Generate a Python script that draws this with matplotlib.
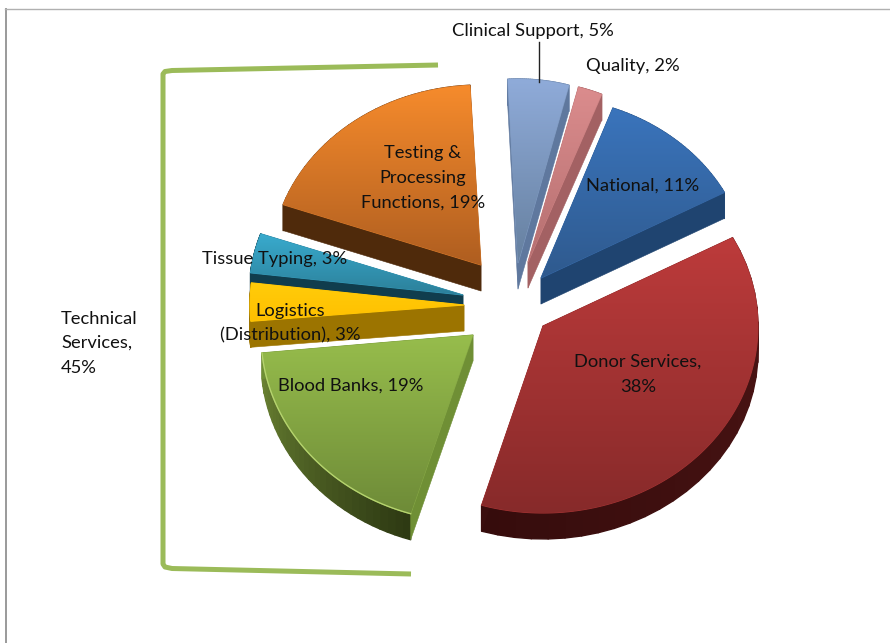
import numpy as np
import matplotlib
matplotlib.use("Agg")
import matplotlib.pyplot as plt
from matplotlib.collections import PolyCollection
from matplotlib.colors import to_rgb
from matplotlib.patches import Polygon

plt.rcParams["font.family"] = ["Lato", "DejaVu Sans"]

# Shares of the service, clockwise from the top of the pie
categories = ["Clinical Support", "Quality", "National", "Donor Services",
              "Blood Banks", "Logistics (Distribution)", "Tissue Typing",
              "Testing & Processing Functions"]
shares = [5, 2, 11, 38, 19, 3, 3, 19]
technical_share = 45

# Slice geometry in pixels: pulled-out apex relative to the pie centre, radii
CENTRE = (500, 300)
apex_dx = [18, 28, 41, 43, -27, -36, -37, -19]
apex_dy = [-37, -38, -22, 26, 35, 5, -5, -35]
radius_x = [197, 195, 208, 215, 212, 214, 214, 210]
radius_y = [184, 181, 181, 187, 187, 187, 187, 180]
# Small foreshortening corrections to each slice's first and last angle, degrees
start_nudge = [0, 0, 2, 0, 1.5, 2, 1, -1]
end_nudge = [0, 0, 0, 2, 2.5, 1, -0.5, 0]
DEPTH = 26
START_ANGLE = 93

top_light = ["#8FABD9", "#DB8C8D", "#3A74BC", "#BD3B3B", "#97BD4C", "#FFCC0A", "#39ABCE", "#F68B2C"]
top_dark = ["#66809F", "#B56F70", "#2F5A8E", "#872A2A", "#6E8B38", "#FFC000", "#2C809A", "#AF5E20"]
arc_wall_a = ["#6C86AE", "#A96567", "#264D7C", "#4E1515", "#2E3A13", "#9C7400", "#103D4D", "#4F2A0B"]
arc_wall_b = ["#6C86AE", "#A96567", "#264D7C", "#360C0C", "#6A8233", "#9C7400", "#103D4D", "#4F2A0B"]
cut_wall = ["#5F789E", "#A36163", "#1F4470", "#3A0E0E", "#6F8F35", "#9C7400", "#103D4D", "#4F2A0B"]

# Back slices are painted first so the nearer ones can overlap them
paint_order = [7, 6, 5, 4, 0, 1, 2, 3]

BRACKET_GREEN = "#9BBB59"
FONT_SIZE = 13.2


def slice_outline(index, angles):
    ax0 = CENTRE[0] + apex_dx[index]
    ay0 = CENTRE[1] + apex_dy[index]
    radians = np.deg2rad(angles)
    xs = ax0 + radius_x[index] * np.cos(radians)
    ys = ay0 - radius_y[index] * np.sin(radians)
    return (ax0, ay0), np.column_stack([xs, ys])


def blend(c1, c2, t):
    a, b = np.array(to_rgb(c1)), np.array(to_rgb(c2))
    return tuple(a + (b - a) * t)


def wall_quad(p, q):
    return [p, q, (q[0], q[1] + DEPTH), (p[0], p[1] + DEPTH)]


def slice_angles(index, n=121):
    return np.linspace(edges[index] + start_nudge[index],
                       edges[index + 1] + end_nudge[index], n)


fig = plt.figure(figsize=(8.9, 6.43), dpi=100)
ax = fig.add_axes([0, 0, 1, 1])
ax.set_axis_off()

edges = START_ANGLE - np.concatenate([[0], np.cumsum(shares)]) * 3.6
z = 2
for i in paint_order:
    apex, arc = slice_outline(i, slice_angles(i))

    # Extruded side: the curved rim in short steps, then both cut faces
    arc_step = arc[::4]
    quads = []
    colours = []
    for k in range(len(arc_step) - 1):
        quads.append(wall_quad(arc_step[k], arc_step[k + 1]))
        colours.append(blend(arc_wall_a[i], arc_wall_b[i], k / max(len(arc_step) - 2, 1)))
    ax.add_collection(PolyCollection(quads, facecolors=colours, edgecolors=colours,
                                     linewidths=1.0, zorder=z))
    ax.add_collection(PolyCollection([wall_quad(apex, arc[0]), wall_quad(apex, arc[-1])],
                                     facecolors=cut_wall[i], edgecolors=cut_wall[i],
                                     linewidths=0.4, zorder=z))
    z += 1

    # Flat base under the gradient keeps the side colour from fringing the face
    outline = np.vstack([[apex], arc])
    mid_colour = blend(top_light[i], top_dark[i], 0.45)
    ax.add_patch(Polygon(outline, closed=True, facecolor=mid_colour,
                         edgecolor=mid_colour, linewidth=0.8, zorder=z))
    z += 1

    # Top face with a vertical gradient clipped to the slice
    y0, y1 = outline[:, 1].min(), outline[:, 1].max()
    x0, x1 = outline[:, 0].min(), outline[:, 0].max()
    ramp = np.array([blend(top_light[i], top_dark[i], t)
                     for t in np.linspace(0, 1, 128)])[:, None, :]
    face = Polygon(outline, closed=True, transform=ax.transData,
                   facecolor="none", edgecolor="none")
    ax.add_patch(face)
    img = ax.imshow(ramp, extent=(x0, x1, y1, y0), aspect="auto",
                    interpolation="bilinear", zorder=z)
    img.set_clip_path(face)
    z += 1

# Light rim along the front of the green slice
_, blood_arc = slice_outline(4, slice_angles(4))
ax.plot(blood_arc[:, 0], blood_arc[:, 1], color="#B5D36E", lw=1.0, zorder=z)

# Chart frame: top and left edges only
ax.plot([5.5, 5.5], [643, 9], color="#9A9A9A", lw=1.4, zorder=1)
ax.plot([5, 890], [9, 9], color="#B0B0B0", lw=1.0, zorder=1)

# Bracket grouping the technical services
ax.plot([438, 172, 165, 163, 163, 165, 172, 411],
        [65, 70.5, 71.5, 74, 564, 567, 568.5, 574],
        color=BRACKET_GREEN, lw=3.6, solid_joinstyle="round",
        solid_capstyle="butt", zorder=z)

# Leader line for the clinical support label
ax.plot([539, 539], [42, 82], color="#222222", lw=1.0, zorder=z)

label_style = dict(fontsize=FONT_SIZE, color="#111111", zorder=z + 1,
                   ha="center", va="center")
for idx, xc, yc in [(0, 533, 31), (1, 633, 66), (2, 643, 186), (4, 351, 386), (6, 275, 259)]:
    ax.text(xc, yc, f"{categories[idx]}, {shares[idx]}%", **label_style)
ax.text(638, 362, "Donor Services,", **label_style)
ax.text(638, 387, f"{shares[3]}%", **label_style)
ax.text(290, 311, "Logistics", **label_style)
ax.text(290, 335, f"(Distribution), {shares[5]}%", **label_style)
ax.text(423, 153, "Testing &", **label_style)
ax.text(423, 178, "Processing", **label_style)
ax.text(423, 203, f"Functions, {shares[7]}%", **label_style)
for y, line in zip([319, 343, 368], ["Technical", "Services,", f"{technical_share}%"]):
    ax.text(61, y, line, fontsize=FONT_SIZE, color="#111111", ha="left", va="center", zorder=z + 1)

ax.set_xlim(0, 890)
ax.set_ylim(643, 0)
fig.savefig("out.png", dpi=100, facecolor="white")
